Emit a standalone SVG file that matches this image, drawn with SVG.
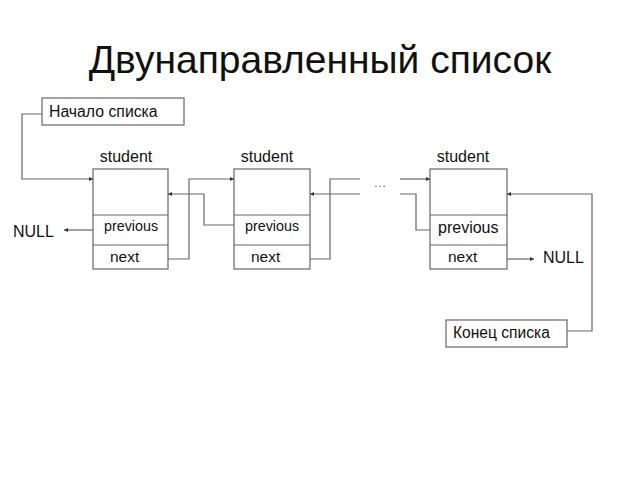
<svg xmlns="http://www.w3.org/2000/svg" width="640" height="480" viewBox="0 0 640 480">
<style>
.ln{fill:none;stroke:#666;stroke-width:1.2}
.bx{fill:#fff;stroke:#666;stroke-width:1.2}
.t{font-family:"Liberation Sans",Arial,sans-serif;fill:#111}
.dots{font-family:"Liberation Sans",Arial,sans-serif;fill:#777}
</style>
<defs>
<marker id="ar" viewBox="0 0 6 6" refX="6" refY="3" markerWidth="4.5" markerHeight="4" markerUnits="userSpaceOnUse" orient="auto">
<path d="M0,0L6,3L0,6z" fill="#333"/>
</marker>
</defs>
<rect width="640" height="480" fill="#fff"/>
<text class="t" x="320" y="73" font-size="39" text-anchor="middle">Двунаправленный список</text>
<g id="start">
<rect class="bx" x="42" y="98" width="142" height="27"/>
<text class="t" x="49" y="117" font-size="15.8">Начало списка</text>
</g>
<g id="node1">
<text class="t" x="126" y="162" font-size="16" text-anchor="middle">student</text>
<rect class="bx" x="93" y="169" width="75" height="100"/>
<line class="ln" x1="93" y1="215" x2="168" y2="215"/>
<line class="ln" x1="93" y1="245" x2="168" y2="245"/>
<text class="t" x="104" y="231" font-size="14.3">previous</text>
<text class="t" x="110" y="262" font-size="15.5">next</text>
</g>
<g id="node2">
<text class="t" x="267" y="162" font-size="16" text-anchor="middle">student</text>
<rect class="bx" x="234" y="169" width="76" height="100"/>
<line class="ln" x1="234" y1="215" x2="310" y2="215"/>
<line class="ln" x1="234" y1="245" x2="310" y2="245"/>
<text class="t" x="245" y="231" font-size="14.3">previous</text>
<text class="t" x="251" y="262" font-size="15.5">next</text>
</g>
<g id="node3">
<text class="t" x="463" y="162" font-size="16" text-anchor="middle">student</text>
<rect class="bx" x="430" y="169" width="77" height="100"/>
<line class="ln" x1="430" y1="215" x2="507" y2="215"/>
<line class="ln" x1="430" y1="245" x2="507" y2="245"/>
<text class="t" x="438" y="233" font-size="16">previous</text>
<text class="t" x="448" y="262" font-size="15.5">next</text>
</g>
<g id="end">
<rect class="bx" x="446" y="320" width="121" height="27"/>
<text class="t" x="453" y="338" font-size="15.6">Конец списка</text>
</g>
<g id="null1"><text class="t" x="13" y="237" font-size="16">NULL</text></g>
<g id="null2"><text class="t" x="543" y="263" font-size="16">NULL</text></g>
<g id="dots"><text class="dots" x="380" y="187" font-size="13" text-anchor="middle">…</text></g>
<g id="connectors">
<polyline class="ln" points="42,114 22,114 22,179 93,179" marker-end="url(#ar)"/>
<line class="ln" x1="93" y1="230" x2="64" y2="230" marker-end="url(#ar)"/>
<polyline class="ln" points="168,259 189,259 189,179 234,179" marker-end="url(#ar)"/>
<polyline class="ln" points="234,225 204,225 204,194 168,194" marker-end="url(#ar)"/>
<line class="ln" x1="360" y1="194" x2="310" y2="194" marker-end="url(#ar)"/>
<polyline class="ln" points="310,259 330,259 330,179 360,179"/>
<line class="ln" x1="400" y1="179" x2="430" y2="179" marker-end="url(#ar)"/>
<polyline class="ln" points="400,194 416,194 416,230 430,230"/>
<line class="ln" x1="507" y1="259" x2="534" y2="259" marker-end="url(#ar)"/>
<polyline class="ln" points="567,331 592,331 592,194 507,194" marker-end="url(#ar)"/>
</g>
</svg>
